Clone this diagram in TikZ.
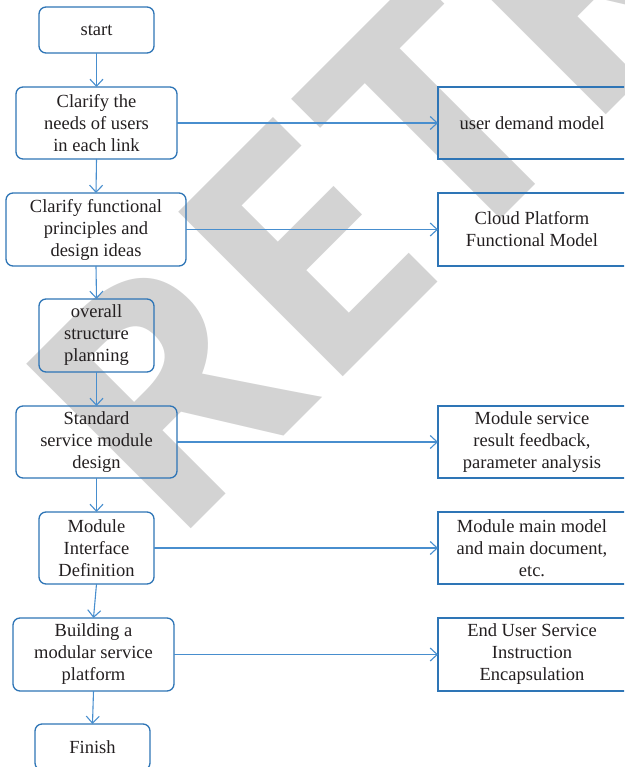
\documentclass[tikz,border=0pt]{standalone}
\usepackage{fontspec}
\setmainfont{Liberation Serif}
\newfontfamily\wmfont{Open Sans}
\usetikzlibrary{arrows.meta}
\definecolor{boxblue}{RGB}{46,117,182}
\definecolor{lineblue}{RGB}{72,142,206}
\definecolor{wmgray}{RGB}{211,211,211}
\definecolor{txt}{RGB}{35,31,32}
\begin{document}
\begin{tikzpicture}[x=1pt,y=-1pt,
  every node/.style={inner sep=0pt,outer sep=0pt},
  label/.style={align=center,text=txt,font=\fontsize{18.5}{22}\selectfont},
  stepbox/.style={label,draw=boxblue,line width=1.3pt,rounded corners=7pt},
  outbox/.style={label,draw=boxblue,line width=1.3pt,minimum width=188pt},
  flow/.style={draw=lineblue,line width=1.1pt,-{Straight Barb[length=7pt,width=13pt]}}]
\useasboundingbox (0,0) rectangle (624,767);
\clip (0,0) rectangle (624,767);

% diagonal watermark behind the chart
\node[anchor=base west,rotate=45,text=wmgray,
      font=\wmfont\bfseries\fontsize{326}{326}\selectfont] (wm) at (170.3,549.7)
      {RETRACTED};

% main sequence of steps
\node[stepbox,minimum width=115pt,minimum height=46pt] (s0) at (96.5,30) {start};
\node[stepbox,minimum width=161pt,minimum height=72pt] (s1) at (96.5,123) {Clarify the\\needs of users\\in each link};
\node[stepbox,minimum width=180pt,minimum height=73pt] (s2) at (96,229.5) {Clarify functional\\principles and\\design ideas};
\node[stepbox,minimum width=115pt,minimum height=73pt] (s3) at (96.5,335.5) {overall\\structure\\planning};
\node[stepbox,minimum width=161pt,minimum height=72pt] (s4) at (96.5,442) {Standard\\service module\\design};
\node[stepbox,minimum width=115pt,minimum height=72pt] (s5) at (96.5,548) {Module\\Interface\\Definition};
\node[stepbox,minimum width=161pt,minimum height=73pt] (s6) at (93.5,654.5) {Building a\\modular service\\platform};
\node[stepbox,minimum width=115pt,minimum height=46pt] (s7) at (92.5,747) {Finish};

% results of the steps
\node[outbox,minimum height=72pt] (o1) at (532,123) {user demand model};
\node[outbox,minimum height=73pt] (o2) at (532,229.5) {Cloud Platform\\Functional Model};
\node[outbox,minimum height=72pt] (o4) at (532,442) {Module service\\result feedback,\\parameter analysis};
\node[outbox,minimum height=72pt] (o5) at (532,548) {Module main model\\and main document,\\etc.};
\node[outbox,minimum height=73pt] (o6) at (532,654.5) {End User Service\\Instruction\\Encapsulation};

% connectors
\draw[flow] (s0.south) -- (s1.north);
\draw[flow] (s1.south) -- (s2.north);
\draw[flow] (s2.south) -- (s3.north);
\draw[flow] (s3.south) -- (s4.north);
\draw[flow] (s4.south) -- (s5.north);
\draw[flow] (s5.south) -- (s6.north);
\draw[flow] (s6.south) -- (s7.north);
\draw[flow] (s1.east) -- (o1.west);
\draw[flow] (s2.east) -- (o2.west);
\draw[flow] (s4.east) -- (o4.west);
\draw[flow] (s5.east) -- (o5.west);
\draw[flow] (s6.east) -- (o6.west);
\end{tikzpicture}
\end{document}
